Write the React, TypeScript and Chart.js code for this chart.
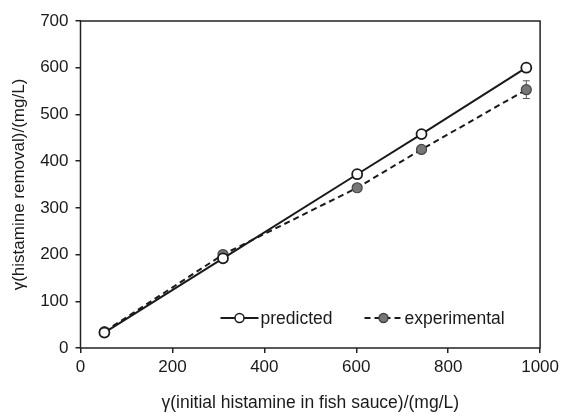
import React, { useEffect, useRef } from "react";
import { Chart, registerables } from "chart.js";

Chart.register(...registerables);

const initialHistamine = [52, 310, 602, 742, 970];
const predicted = [33, 192, 372, 458, 600];
const experimental = [35, 200, 343, 425, 553];
const experimentalError = [3, 4, 4, 4, 19];
const xTicks = [0, 200, 400, 600, 800, 1000];
const yTicks = [0, 100, 200, 300, 400, 500, 600, 700];

const FONT = "'Liberation Sans', Arial, Helvetica, sans-serif";
const TEXT = "#1a1a1a";

const boxPlugin = {
  id: "boxPlugin",
  beforeDatasetsDraw(chart: any) {
    const { ctx, scales } = chart;
    ctx.save();
    ctx.strokeStyle = "#555";
    ctx.lineWidth = 1;
    initialHistamine.forEach((x, i) => {
      const px = scales.x.getPixelForValue(x);
      const top = scales.y.getPixelForValue(experimental[i] + experimentalError[i]);
      const bot = scales.y.getPixelForValue(experimental[i] - experimentalError[i]);
      ctx.beginPath();
      ctx.moveTo(px, top);
      ctx.lineTo(px, bot);
      ctx.moveTo(px - 3.5, top);
      ctx.lineTo(px + 3.5, top);
      ctx.moveTo(px - 3.5, bot);
      ctx.lineTo(px + 3.5, bot);
      ctx.stroke();
    });
    ctx.restore();
  },
  afterDraw(chart: any) {
    const { ctx, chartArea } = chart;
    ctx.save();
    ctx.strokeStyle = "#222";
    ctx.lineWidth = 1.5;
    ctx.strokeRect(chartArea.left, chartArea.top, chartArea.right - chartArea.left, chartArea.bottom - chartArea.top);

    const ly = chartArea.bottom - 30;
    const drawEntry = (x0: number, dashed: boolean, fill: string, label: string) => {
      ctx.strokeStyle = "#1a1a1a";
      ctx.lineWidth = 2;
      ctx.setLineDash(dashed ? [6, 4] : []);
      ctx.beginPath();
      ctx.moveTo(x0, ly);
      ctx.lineTo(x0 + 38, ly);
      ctx.stroke();
      ctx.setLineDash([]);
      ctx.beginPath();
      ctx.arc(x0 + 19, ly, 4.5, 0, Math.PI * 2);
      ctx.fillStyle = fill;
      ctx.fill();
      ctx.lineWidth = 1.5;
      ctx.strokeStyle = dashed ? "#444" : "#1a1a1a";
      ctx.stroke();
      ctx.fillStyle = TEXT;
      ctx.font = `17.5px ${FONT}`;
      ctx.textBaseline = "middle";
      ctx.fillText(label, x0 + 40, ly + 1);
    };
    drawEntry(chartArea.left + 140, false, "#ffffff", "predicted");
    drawEntry(chartArea.left + 284, true, "#777777", "experimental");
    ctx.restore();
  },
};

export default function App() {
  const ref = useRef<HTMLCanvasElement | null>(null);
  useEffect(() => {
    document.body.style.margin = "0";
    const chart = new Chart(ref.current as HTMLCanvasElement, {
      type: "line",
      data: {
        labels: initialHistamine,
        datasets: [
          {
            label: "predicted",
            data: initialHistamine.map((x, i) => ({ x, y: predicted[i] })),
            borderColor: "#1a1a1a",
            borderWidth: 2,
            pointRadius: 5,
            pointBackgroundColor: "#ffffff",
            pointBorderColor: "#1a1a1a",
            pointBorderWidth: 1.8,
            tension: 0,
          },
          {
            label: "experimental",
            data: initialHistamine.map((x, i) => ({ x, y: experimental[i] })),
            borderColor: "#1a1a1a",
            borderWidth: 2,
            borderDash: [6, 4],
            pointRadius: 5,
            pointBackgroundColor: "#777777",
            pointBorderColor: "#444444",
            pointBorderWidth: 1.2,
            tension: 0,
          },
        ],
      },
      options: {
        animation: false,
        responsive: false,
        layout: { padding: { top: 21, right: 20, left: 0, bottom: 0 } },
        plugins: { legend: { display: false }, tooltip: { enabled: false } },
        scales: {
          x: {
            type: "linear",
            min: 0,
            max: 1000,
            afterBuildTicks: (s: any) => { s.ticks = xTicks.map((v) => ({ value: v })); },
            afterFit: (s: any) => { s.height = 66; },
            grid: { display: true, drawOnChartArea: false, tickLength: 5, color: "#222", lineWidth: 1.5 },
            border: { display: false },
            ticks: { color: TEXT, font: { family: FONT, size: 17 }, padding: 4, maxRotation: 0, callback: (v: any) => String(v) },
            title: { display: true, text: "γ(initial histamine in fish sauce)/(mg/L)", color: TEXT, font: { family: FONT, size: 17.5 }, padding: { top: 7, bottom: 0 } },
          },
          y: {
            type: "linear",
            min: 0,
            max: 700,
            afterBuildTicks: (s: any) => { s.ticks = yTicks.map((v) => ({ value: v })); },
            afterFit: (s: any) => { s.width = 80.5; },
            grid: { display: true, drawOnChartArea: false, tickLength: 5, color: "#222", lineWidth: 1.5 },
            border: { display: false },
            ticks: { color: TEXT, font: { family: FONT, size: 17 }, padding: 7, callback: (v: any) => String(v) },
            title: { display: true, text: "γ(histamine removal)/(mg/L)", color: TEXT, font: { family: FONT, size: 17 }, padding: { top: 9, bottom: 4 } },
          },
        },
      },
      plugins: [boxPlugin],
    } as any);
    return () => chart.destroy();
  }, []);
  return (
    <div style={{ width: 563, height: 414 }}>
      <canvas ref={ref} width={563} height={414} style={{ display: "block" }} />
    </div>
  );
}
